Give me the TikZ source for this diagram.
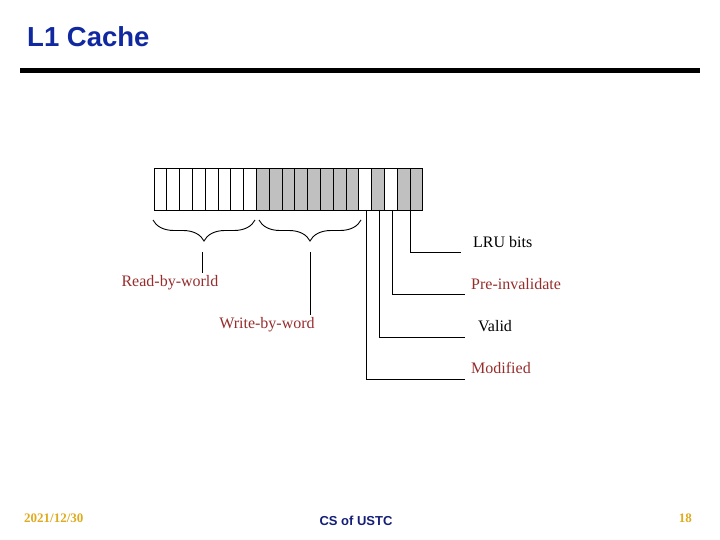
\documentclass[tikz,border=0pt]{standalone}
\usepackage{fontspec}
\setmainfont{Liberation Serif}
\setsansfont{Liberation Sans}
\usetikzlibrary{decorations.pathreplacing}
\definecolor{titleblue}{RGB}{16,40,160}
\definecolor{labelred}{RGB}{150,45,45}
\definecolor{footgold}{RGB}{222,170,30}
\definecolor{footblue}{RGB}{20,30,120}
\definecolor{cellgray}{RGB}{192,192,192}
\tikzset{
  lbl/.style={inner sep=0pt, font=\fontsize{16}{16}\selectfont},
  lead/.style={line width=0.9pt},
  brc/.style={line width=0.9pt, decorate, decoration={brace, amplitude=21pt}}
}
\begin{document}
\begin{tikzpicture}[x=1pt,y=-1pt]
    \useasboundingbox (0,0) rectangle (720,540);
    % title and rule
    \node[anchor=west, inner sep=0pt, text=titleblue, font=\sffamily\bfseries\fontsize{27.5}{27.5}\selectfont] (title) at (27,37) {L1 Cache};
    \fill (20,68) rectangle (700,73);
    % the 21 cells of one line
    \foreach \i/\c in {0/white,1/white,2/white,3/white,4/white,5/white,6/white,7/white,
                       8/cellgray,9/cellgray,10/cellgray,11/cellgray,12/cellgray,13/cellgray,14/cellgray,15/cellgray,
                       16/white,17/cellgray,18/white,19/cellgray,20/cellgray}
        \draw[line width=0.9pt, fill=\c] ({154+12.8*\i},168) rectangle ({154+12.8*(\i+1)},210);
    % braces under the data words
    \draw[brc] (255,220) -- (153,220) coordinate[midway] (readmid);
    \draw[brc] (361,220) -- (259,220) coordinate[midway] (writemid);
    \coordinate (readtop) at (202,252);
    \coordinate (writetop) at (310,252);
    \node[lbl, text=labelred] (read) at (170,283) {Read-by-world};
    \node[lbl, text=labelred] (write) at (267,325) {Write-by-word};
    \draw[lead] (readtop) -- (202,273);
    \draw[lead] (writetop) -- (310,315);
    % state bits
    \coordinate (lrubot) at (410,210);
    \coordinate (prebot) at (392,210);
    \coordinate (valbot) at (379.5,210);
    \coordinate (modbot) at (366.7,210);
    \coordinate (lruend) at (461,252);
    \coordinate (preend) at (465,294);
    \coordinate (valend) at (465,337);
    \coordinate (modend) at (465,379);
    \draw[lead] (lrubot) |- (lruend);
    \draw[lead] (prebot) |- (preend);
    \draw[lead] (valbot) |- (valend);
    \draw[lead] (modbot) |- (modend);
    \node[lbl, anchor=west] (lru) at (473,242) {LRU bits};
    \node[lbl, anchor=west, text=labelred] (pre) at (471,284) {Pre-invalidate};
    \node[lbl, anchor=west, text=labelred] (mod) at (471,368) {Modified};
    \node[lbl, anchor=west] (val) at (478,326) {Valid};
    % footer
    \node[anchor=west, inner sep=0pt, text=footgold, font=\bfseries\fontsize{13}{13}\selectfont] (date) at (24,518) {2021/12/30};
    \node[inner sep=0pt, text=footblue, font=\sffamily\bfseries\fontsize{13}{13}\selectfont] (org) at (356,521) {CS of USTC};
    \node[anchor=east, inner sep=0pt, text=footgold, font=\bfseries\fontsize{13}{13}\selectfont] (page) at (692,518) {18};
\end{tikzpicture}
\end{document}
